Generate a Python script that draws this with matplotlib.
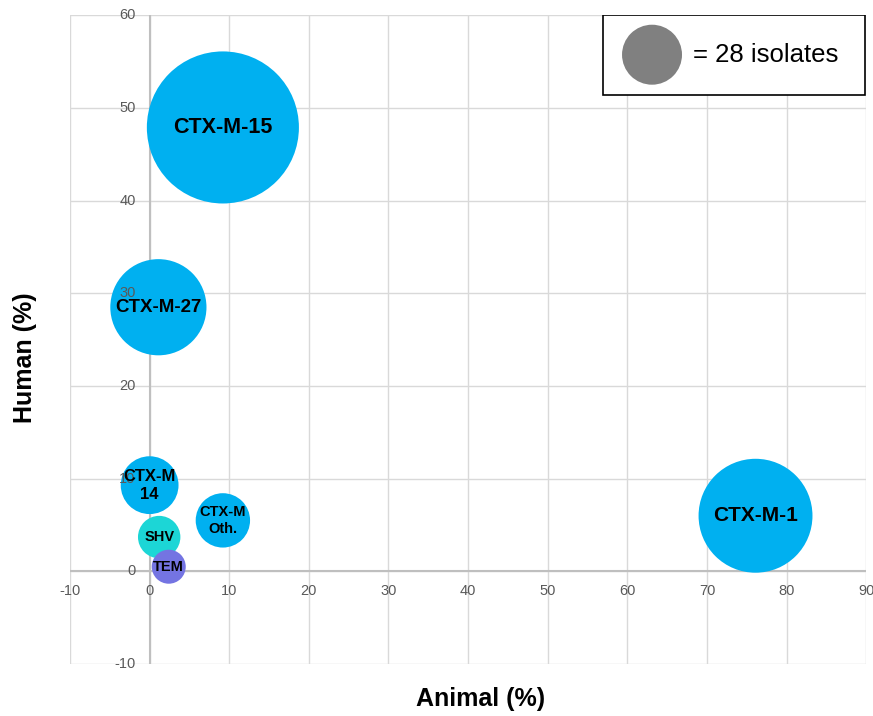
import matplotlib.pyplot as plt
from matplotlib.patches import Rectangle

plt.rcParams['font.family'] = ['Liberation Sans', 'DejaVu Sans']

# bubble data
labels = ['CTX-M-15', 'CTX-M-27', 'CTX-M-1', 'CTX-M\n14', 'CTX-M\nOth.', 'SHV', 'TEM']
animal = [9.2, 1.1, 76.1, 0.0, 9.2, 1.2, 2.4]
human = [47.9, 28.5, 6.0, 9.3, 5.5, 3.7, 0.5]
isolates = [180, 72, 101, 26, 23, 14, 9]
colors = ['#00B0F0', '#00B0F0', '#00B0F0', '#00B0F0', '#00B0F0', '#1CD6D6', '#7474E2']
label_size = [15.5, 13.5, 15, 12, 10.5, 10.5, 10.5]

legend_n = 28
xticks = list(range(-10, 100, 10))
yticks = list(range(-10, 70, 10))

scale = 66.6  # points^2 per isolate

fig = plt.figure(figsize=(8.73, 7.16), dpi=100)
ax = fig.add_axes([0.0802, 0.0726, 0.912, 0.906])
ax.set_xlim(-10, 90)
ax.set_ylim(-10, 60)
for s in ax.spines.values():
    s.set_visible(False)
ax.set_xticks([])
ax.set_yticks([])

for x in xticks:
    ax.axvline(x, color='#d9d9d9', lw=1, zorder=0)
for y in yticks:
    ax.axhline(y, color='#d9d9d9', lw=1, zorder=0)
ax.axvline(0, color='#bfbfbf', lw=1.5, zorder=1)
ax.axhline(0, color='#bfbfbf', lw=1.5, zorder=1)

ax.scatter(animal, human, s=[n * scale for n in isolates], c=colors,
           edgecolors='none', zorder=2)

for x in xticks:
    ax.text(x, -2.1, str(x), ha='center', va='center', fontsize=10.5,
            color='#595959', zorder=4)
for y in yticks:
    ax.text(-1.75, y, str(y), ha='right', va='center', fontsize=10.5,
            color='#595959', zorder=4)

for lab, x, y, fs in zip(labels, animal, human, label_size):
    ax.text(x, y, lab, ha='center', va='center', fontsize=fs,
            fontweight='bold', color='black', zorder=5, linespacing=1.25)

# size legend
ax.add_patch(Rectangle((56.9, 51.4), 33.0, 8.6, facecolor='white',
                       edgecolor='black', lw=1.2, zorder=6))
ax.scatter([63.1], [55.75], s=legend_n * scale, c='#808080', edgecolors='none', zorder=7)
ax.text(68.2, 55.75, '= %d isolates' % legend_n, ha='left', va='center',
        fontsize=18.5, zorder=7)

fig.text(0.029, 0.5, 'Human (%)', rotation=90, ha='center', va='center',
         fontsize=18, fontweight='bold')
fig.text(0.551, 0.024, 'Animal (%)', ha='center', va='center',
         fontsize=18, fontweight='bold')

fig.savefig('out.png', dpi=100)
